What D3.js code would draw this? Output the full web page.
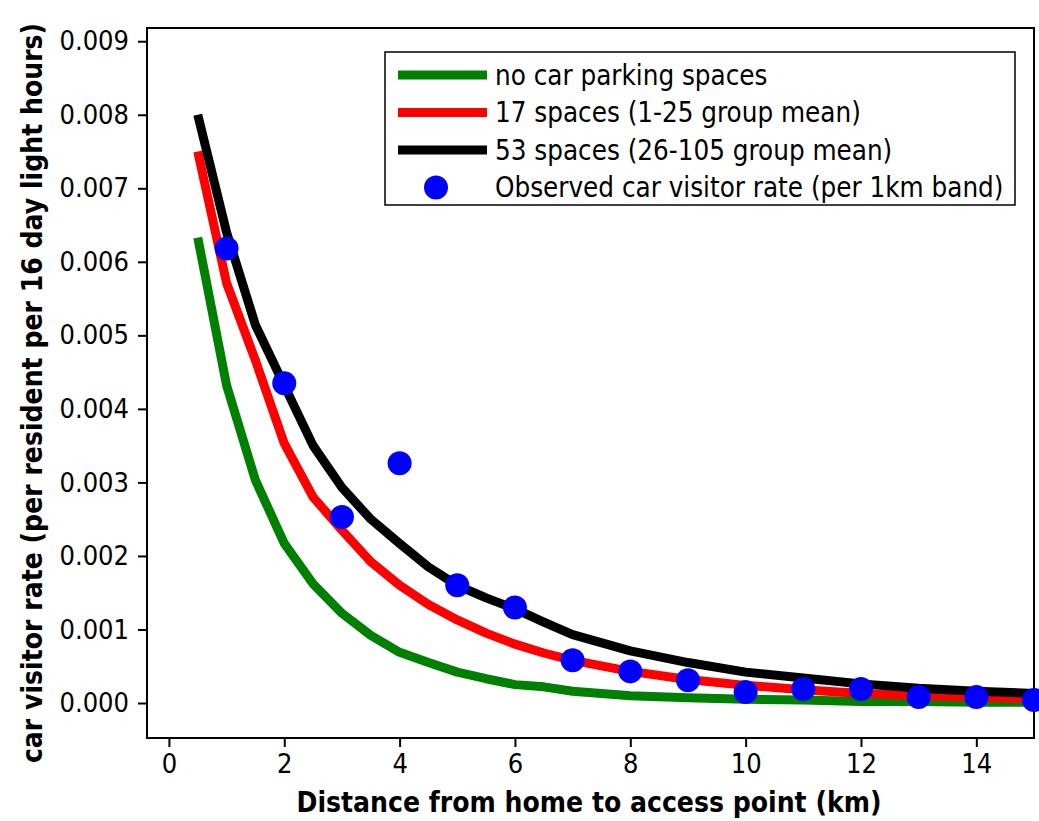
<!DOCTYPE html>
<html><head><meta charset="utf-8">
<script src="https://cdn.jsdelivr.net/npm/d3@7"></script>
<style>body{margin:0;background:#fff}svg{display:block}</style>
</head><body>
<script>
const xsCurve = [0.5,1,1.5,2,2.5,3,3.5,4,4.5,5,5.5,6,6.5,7,8,9,10,11,12,13,14,15];
const greenVals = [0.00633,0.00432,0.00303,0.00217,0.00162,0.00122,0.00092,0.00069,0.00055,0.00042,0.00033,0.00025,0.00022,0.00016,0.00010,0.00007,0.00005,0.00004,0.00002,0.00002,0.00001,0.00001];
const redVals = [0.00750,0.00571,0.00466,0.00353,0.00280,0.00235,0.00192,0.00160,0.00134,0.00113,0.00095,0.00080,0.00068,0.00058,0.00043,0.00032,0.00024,0.00018,0.00013,0.00010,0.00008,0.00006];
const blackVals = [0.00800,0.00640,0.00514,0.00432,0.00350,0.00293,0.00250,0.00217,0.00185,0.00160,0.00143,0.00128,0.00110,0.00093,0.00071,0.00055,0.00042,0.00034,0.00026,0.00020,0.00016,0.00013];
const obsX = [1,2,3,4,5,6,7,8,9,10,11,12,13,14,15];
const obsVals = [0.00618,0.00435,0.00253,0.00326,0.00160,0.00130,0.00058,0.00043,0.00031,0.00015,0.00019,0.00019,0.00008,0.00008,0.00004];
const xTicks = [0,2,4,6,8,10,12,14];
const yTicks = [0,0.001,0.002,0.003,0.004,0.005,0.006,0.007,0.008,0.009];
const seriesNames = ["no car parking spaces","17 spaces (1-25 group mean)","53 spaces (26-105 group mean)","Observed car visitor rate (per 1km band)"];
const seriesColors = ["#008000","#ff0000","#000000","#0000ff"];

const W=1039,H=821;
const L=147,R=1034,T=28,B=738;
const svg=d3.select("body").append("svg").attr("width",W).attr("height",H);
const x=d3.scaleLinear().domain([-0.38,15]).range([L,R]);
const y=d3.scaleLinear().domain([-0.000476,0.00918]).range([B,T]);
const font="'DejaVu Sans Condensed', 'DejaVu Sans', sans-serif";

svg.append("rect").attr("x",L).attr("y",T).attr("width",R-L).attr("height",B-T)
  .attr("fill","none").attr("stroke","#000").attr("stroke-width",2);

const xa=svg.append("g").attr("transform",`translate(0,${B})`)
  .call(d3.axisBottom(x).tickValues(xTicks).tickSize(9).tickSizeOuter(0).tickFormat(d3.format("d")));
const ya=svg.append("g").attr("transform",`translate(${L},0)`)
  .call(d3.axisLeft(y).tickValues(yTicks).tickSize(9).tickSizeOuter(0).tickFormat(d3.format(".3f")));
[xa,ya].forEach(a=>{
  a.select(".domain").remove();
  a.selectAll("line").attr("stroke","#000").attr("stroke-width",2);
  a.selectAll("text").attr("font-family",font).attr("font-size",27).attr("fill","#000");
});
xa.selectAll("text").attr("dy","0.95em").attr("y",9);
ya.selectAll("text").attr("x",-18);

const line=d3.line().x((d,i)=>x(xsCurve[i])).y(d=>y(d));
[[greenVals,0],[redVals,1],[blackVals,2]].forEach(([vals,i])=>{
  svg.append("path").attr("d",line(vals)).attr("fill","none")
    .attr("stroke",seriesColors[i]).attr("stroke-width",9).attr("stroke-linejoin","round");
});
svg.selectAll("circle.obs").data(obsVals).enter().append("circle").attr("class","obs")
  .attr("cx",(d,i)=>x(obsX[i])).attr("cy",d=>y(d)).attr("r",12).attr("fill",seriesColors[3]);

const lg=svg.append("g");
lg.append("rect").attr("x",385).attr("y",52).attr("width",630).attr("height",153)
  .attr("fill","#fff").attr("stroke","#000").attr("stroke-width",1.5);
seriesNames.forEach((n,i)=>{
  const yy=75+i*37.5;
  if(i<3) lg.append("line").attr("x1",398).attr("x2",487).attr("y1",yy).attr("y2",yy)
    .attr("stroke",seriesColors[i]).attr("stroke-width",9);
  else lg.append("circle").attr("cx",436).attr("cy",yy).attr("r",12).attr("fill",seriesColors[3]);
  lg.append("text").attr("x",495).attr("y",yy).attr("dy","0.35em").attr("font-family",font)
    .attr("font-size",27.5).text(n);
});

svg.append("text").attr("x",589).attr("y",812).attr("text-anchor","middle")
  .attr("font-family",font).attr("font-weight","bold").attr("font-size",28)
  .text("Distance from home to access point (km)");
svg.append("text").attr("transform",`translate(42,${(T+B)/2+10}) rotate(-90)`).attr("text-anchor","middle")
  .attr("font-family",font).attr("font-weight","bold").attr("font-size",28)
  .text("car visitor rate (per resident per 16 day light hours)");
</script>
</body></html>
